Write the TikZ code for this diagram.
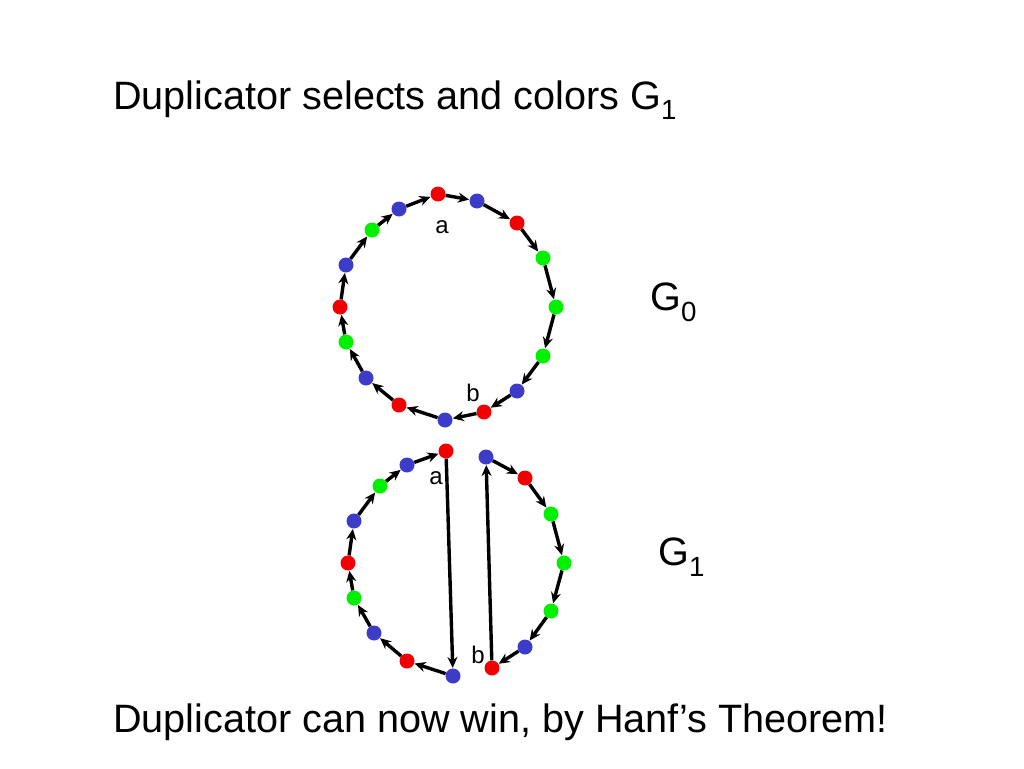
\documentclass[tikz,border=0pt]{standalone}
\usepackage{fontspec}
\setmainfont{Liberation Sans}
\usetikzlibrary{arrows.meta}
\definecolor{vr}{RGB}{240,0,0}
\definecolor{vg}{RGB}{0,240,0}
\definecolor{vb}{RGB}{60,60,200}
\begin{document}
\begin{tikzpicture}[x=1pt,y=-1pt,
  dot/.style={circle,inner sep=0pt,minimum size=15pt,fill=#1},
  edge/.style={line width=3.4pt,-{Stealth[length=11pt,width=10pt]},shorten >=0.3pt},
  lbl/.style={font=\fontsize{24}{26}\selectfont,inner sep=0pt},
  big/.style={font=\fontsize{39.6}{44}\selectfont,inner sep=0pt,anchor=west}]
\useasboundingbox (0,0) rectangle (1024,768);
\foreach \n/\x/\y/\c in {1/438/194/vr,2/477/201/vb,3/517/223/vr,4/543/258/vg,5/556/307/vg,6/543/356/vg,7/517/391/vb,8/484/412/vr,9/445/420/vb,10/399/405/vr,11/366/378/vb,12/346/342/vg,13/340/307/vr,14/346/265/vb,15/372/230/vg,16/399/209/vb}
  \node[dot=\c] (t\n) at (\x,\y) {};
\foreach \a/\b in {1/2,2/3,3/4,4/5,5/6,6/7,7/8,8/9,9/10,10/11,11/12,12/13,13/14,14/15,15/16,16/1}
  \draw[edge] (t\a) -- (t\b);
\foreach \n/\x/\y/\c in {1/446/451/vr,2/407/465/vb,3/380/486/vg,4/354/521/vb,5/348/563/vr,6/354/598/vg,7/374/633/vb,8/407/661/vr,9/453/676/vb}
  \node[dot=\c] (l\n) at (\x,\y) {};
\foreach \a/\b in {9/8,8/7,7/6,6/5,5/4,4/3,3/2,2/1,1/9}
  \draw[edge] (l\a) -- (l\b);
\foreach \n/\x/\y/\c in {1/486/457/vb,2/525/478/vr,3/551/514/vg,4/564/563/vg,5/551/611/vg,6/525/647/vb,7/492/668/vr}
  \node[dot=\c] (r\n) at (\x,\y) {};
\foreach \a/\b in {1/2,2/3,3/4,4/5,5/6,6/7,7/1}
  \draw[edge] (r\a) -- (r\b);
\node[lbl] (la1) at (442,227) {a};
\node[lbl] (lb1) at (473,393) {b};
\node[lbl] (la2) at (436,478) {a};
\node[lbl] (lb2) at (478,655) {b};
\node[big] (g0) at (650,302) {G\textsubscript{0}};
\node[big] (g1) at (658,557) {G\textsubscript{1}};
\node[big] (title) at (113,100) {Duplicator selects and colors G\textsubscript{1}};
\node[big] (foot) at (113,722) {Duplicator can now win, by Hanf’s Theorem!};
\end{tikzpicture}
\end{document}
